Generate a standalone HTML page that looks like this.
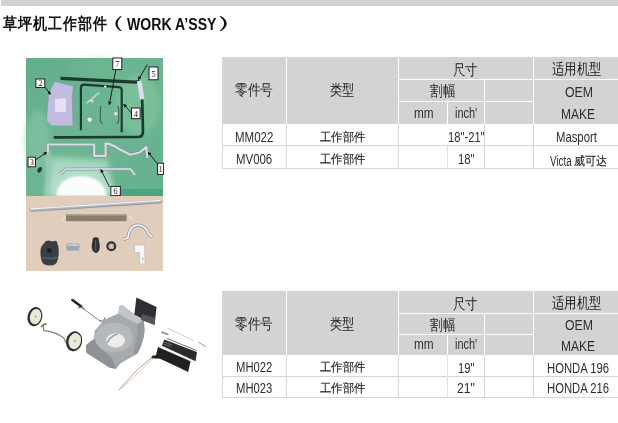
<!DOCTYPE html>
<html><head><meta charset="utf-8">
<style>
html,body{margin:0;padding:0;background:#fff;width:618px;height:423px;overflow:hidden;position:relative}
body{font-family:"Liberation Sans", sans-serif}
.t{position:absolute;white-space:nowrap;line-height:1;transform-origin:0 0;font-family:"Liberation Sans", sans-serif}
.r{position:absolute}
.hw{position:absolute;height:1px;background:#fff}
.vw{position:absolute;width:1px;background:#fff}
.hb{position:absolute;height:1px;background:#d6d6d6}
.vb{position:absolute;width:1px;background:#d6d6d6}
.vd{position:absolute;width:1px;background:repeating-linear-gradient(#d4d4d4 0 1px,#f0f0f0 1px 2px)}
.vl{position:absolute;width:1px;background:#d8d6d6}
svg{position:absolute;left:0;top:0}
</style></head><body>
<!-- top bar -->
<div class="r" style="left:1px;top:0;width:617px;height:6px;background:#d1d1d1"></div>

<!-- TABLE 1 -->
<div class="r" style="left:222px;top:57px;width:396px;height:67px;background:#d3d3d3"></div>
<div class="vl" style="left:222px;top:57px;height:111px"></div>
<div class="vw" style="left:286px;top:57px;height:67px"></div>
<div class="vw" style="left:398px;top:57px;height:67px"></div>
<div class="vw" style="left:533px;top:57px;height:67px"></div>
<div class="vw" style="left:484px;top:80px;height:44px"></div>
<div class="vw" style="left:447px;top:102px;height:22px"></div>
<div class="hw" style="left:399px;top:79px;width:219px"></div>
<div class="hw" style="left:399px;top:101px;width:134px"></div>
<div class="hb" style="left:222px;top:145px;width:396px"></div>
<div class="hb" style="left:222px;top:168px;width:396px"></div>
<div class="vb" style="left:286px;top:124px;height:44px"></div>
<div class="vb" style="left:398px;top:124px;height:44px"></div>
<div class="vb" style="left:484px;top:124px;height:44px"></div>
<div class="vb" style="left:533px;top:124px;height:44px"></div>
<div class="vd" style="left:447px;top:146px;height:22px"></div>

<!-- TABLE 2 -->
<div class="r" style="left:222px;top:291px;width:396px;height:64px;background:#d3d3d3"></div>
<div class="vl" style="left:222px;top:291px;height:106px"></div>
<div class="vw" style="left:286px;top:291px;height:64px"></div>
<div class="vw" style="left:398px;top:291px;height:64px"></div>
<div class="vw" style="left:533px;top:291px;height:64px"></div>
<div class="vw" style="left:484px;top:314px;height:41px"></div>
<div class="vw" style="left:447px;top:335px;height:20px"></div>
<div class="hw" style="left:399px;top:313px;width:219px"></div>
<div class="hw" style="left:399px;top:334px;width:134px"></div>
<div class="hb" style="left:222px;top:376px;width:396px"></div>
<div class="hb" style="left:222px;top:397px;width:396px"></div>
<div class="vb" style="left:286px;top:355px;height:42px"></div>
<div class="vb" style="left:398px;top:355px;height:42px"></div>
<div class="vd" style="left:447px;top:355px;height:42px"></div>
<div class="vb" style="left:484px;top:355px;height:42px"></div>
<div class="vb" style="left:533px;top:355px;height:42px"></div>

<!-- PHOTOS -->
<svg width="618" height="423" viewBox="0 0 618 423">
<!--PHOTO1-->
<defs>
<radialGradient id="refl" cx="0.5" cy="0.8" r="0.6">
<stop offset="0" stop-color="#f2f8f4"/><stop offset="0.45" stop-color="#d8ede2"/><stop offset="1" stop-color="#5aa985" stop-opacity="0"/>
</radialGradient>
<linearGradient id="gtop" x1="0" y1="0" x2="1" y2="1">
<stop offset="0" stop-color="#64ad8b"/><stop offset="0.5" stop-color="#6db592"/><stop offset="1" stop-color="#66b08e"/>
</linearGradient>
<marker id="ah" viewBox="0 0 6 6" refX="5" refY="3" markerWidth="4" markerHeight="4" orient="auto"><path d="M0,0 L6,3 L0,6 z" fill="#111"/></marker>
</defs>
<rect x="26" y="58" width="137" height="138" fill="url(#gtop)"/>
<ellipse cx="138" cy="105" rx="22" ry="30" fill="#7cc29c" filter="url(#bl3)" opacity="0.8"/>
<ellipse cx="100" cy="70" rx="30" ry="10" fill="#6cb892" filter="url(#bl3)" opacity="0.7"/>
<ellipse cx="38" cy="140" rx="12" ry="30" fill="#84c4a6" filter="url(#bl3)" opacity="0.7"/>
<filter id="bl3" x="-0.5" y="-0.5" width="2" height="2"><feGaussianBlur stdDeviation="3"/></filter>
<filter id="bl1" x="-0.5" y="-0.5" width="2" height="2"><feGaussianBlur stdDeviation="1.2"/></filter>
<polygon points="49,157 108,160 113,196 49,196" fill="#a8d9c3" filter="url(#bl3)" opacity="0.95"/>
<path d="M46,196 Q46,170 78,168 Q112,168 114,196 Z" fill="#b4dfcc" filter="url(#bl3)" opacity="0.9"/>
<path d="M56,196 Q58,177 80,176 Q103,176 107,196 Z" fill="#fbfdfc" filter="url(#bl1)"/>
<rect x="45" y="150" width="6" height="46" fill="#9ccdb8" filter="url(#bl1)" opacity="0.6"/>
<rect x="121" y="189" width="42" height="7" fill="#4ba57f"/>
<!-- lilac part -->
<polygon points="54.7,81.8 73.1,86.6 72.2,93.4 73.1,125.5 51.8,125.5 46.9,120.6 48.9,93.4" fill="#c2bce0"/>
<polygon points="55,99 66,98 66,112 55,112" fill="#e4e0f2"/>
<polyline points="72.2,93.4 73.1,125.5" stroke="#9a94b8" stroke-width="1" fill="none"/>
<!-- top rod / handle -->
<path d="M60.5,78.3 L135.3,82.2 Q138.5,82 139.5,80.8" stroke="#1d3a30" stroke-width="3.2" fill="none"/>
<path d="M139.2,81 L142.2,99.2" stroke="#e0d8ec" stroke-width="4.6" fill="none"/>
<path d="M142.2,99.5 L143,131.5 Q143,137 138,137 L53.7,137.3" stroke="#1d3a30" stroke-width="2.7" fill="none"/>
<!-- inner frame -->
<path d="M80.9,130.3 L80.9,88 Q81,84.7 84,84.7 L119,87.2 Q121.7,87.6 121.7,90 L121.7,132.3" stroke="#1d3a30" stroke-width="2.2" fill="none"/>
<circle cx="105.2" cy="86.6" r="1.2" fill="#f0f0f0"/>
<!-- small parts inside -->
<path d="M86.7,103.1 L99.3,92.4" stroke="#c8d4d0" stroke-width="1.4"/>
<path d="M101.8,106 Q100,106 100.3,110 L100.3,120 Q100.3,123.5 102.8,123.5" stroke="#39524a" stroke-width="1" fill="none"/>
<path d="M117,106 Q119,106 118.8,110 L118.8,120 Q118.8,123.5 116.5,123.5" stroke="#39524a" stroke-width="1" fill="none"/>
<circle cx="89.6" cy="119.6" r="2.2" fill="#eef2ee"/>
<circle cx="115.8" cy="113.8" r="1.8" fill="#e0e8e4"/>
<circle cx="92" cy="101" r="1.6" fill="#cfd8d4"/>
<!-- silver rod 1 -->
<path d="M47.8,153.6 L47.8,144.5 L94.2,144.5 L94.2,155.9 L105.6,155.9 L105.6,143.4 Q112,144 119,149 L130.5,154.7 L139.5,152.5 L146.3,146.8 L147.5,158" stroke="#7f9490" stroke-width="3.6" fill="none" stroke-linejoin="round"/><path d="M47.8,153.6 L47.8,144.5 L94.2,144.5 L94.2,155.9 L105.6,155.9 L105.6,143.4 Q112,144 119,149 L130.5,154.7 L139.5,152.5 L146.3,146.8 L147.5,158" stroke="#d4dde2" stroke-width="2.2" fill="none" stroke-linejoin="round"/>
<!-- silver rod 6 -->
<path d="M60.2,174 L65.9,169 L130.5,169 L135,175" stroke="#8c9ca0" stroke-width="3" fill="none"/><path d="M60.2,174 L65.9,169 L130.5,169 L135,175" stroke="#dde2ee" stroke-width="1.6" fill="none"/>
<!-- misc dark bits -->
<ellipse cx="39.7" cy="169.8" rx="2" ry="3" fill="#2a3a34" transform="rotate(30 39.7 169.8)"/>
<!-- labels -->
<g stroke="#111" stroke-width="0.9" fill="#fff">
<rect x="35.9" y="79" width="8.9" height="8.5"/>
<rect x="112.8" y="58" width="9" height="11.6"/>
<rect x="149" y="67" width="9" height="12.8"/>
<rect x="131.4" y="108" width="8.7" height="10.7"/>
<rect x="28" y="157.2" width="7.4" height="9.6"/>
<rect x="110.9" y="186.4" width="9.4" height="9.3"/>
<rect x="157.6" y="163.2" width="6" height="11.3"/>
</g>
<g font-family="Liberation Serif" font-size="8" fill="#111" text-anchor="middle">
<text x="40.4" y="86.3">2</text>
<text x="117.3" y="67">7</text>
<text x="153.5" y="76.8">5</text>
<text x="135.8" y="117">4</text>
<text x="31.7" y="165">3</text>
<text x="115.6" y="194.3">6</text>
<text x="160.6" y="172">1</text>
</g>
<g stroke="#111" stroke-width="0.9" fill="none" marker-end="url(#ah)">
<path d="M45.3,87.5 L50.4,94.3"/>
<path d="M115.8,70 L109.3,104.6"/>
<path d="M147.3,64.5 L138.5,79.5"/>
<path d="M131.4,113 L123.8,104.3"/>
<path d="M35.4,160 L46.7,152.4"/>
<path d="M109.5,187 L100.9,169.6"/>
<path d="M157.6,164 L148.3,152.4"/>
</g>
<!-- lower beige photo -->
<rect x="26" y="196" width="137" height="75" fill="#e0cdbb"/>
<path d="M30.8,209.8 L160.8,201.3" stroke="#b4b8c0" stroke-width="3.8" stroke-linecap="round"/>
<path d="M30.8,208.8 L160.8,200.3" stroke="#eef0f4" stroke-width="1.2"/>
<path d="M30.8,211.4 L160.8,202.9" stroke="#8e9098" stroke-width="0.8"/>
<rect x="66" y="214" width="60.5" height="7.2" fill="#938676"/>
<path d="M66,217.6 L126.5,217.6" stroke="#6e6458" stroke-width="7" stroke-dasharray="0.8 0.9" opacity="0.5"/>
<rect x="66" y="214" width="60.5" height="1.6" fill="#b0a494"/>
<path d="M66,217 Q62,216 63,221 M127.8,217 Q132,215 131,220" stroke="#f0ece8" stroke-width="1" fill="none"/>
<path d="M44.5,243 Q44.5,240.5 49,240.5 L52,241.5 L55,240.8 Q57.5,241 57.5,244 Q58.8,246 58.7,252 Q58.7,259 56.5,263 Q54,265.7 50,265.5 Q44,265.5 42,262 Q40.3,258 40.5,251 Q40.5,246 44.5,243 Z" fill="#3a3f46"/>
<ellipse cx="49.3" cy="250.5" rx="2.4" ry="2.6" fill="#1e2024"/>
<path d="M42,257.5 Q50,259.5 57.8,257.5" stroke="#52606a" stroke-width="1.4" fill="none"/>
<rect x="66.3" y="243" width="13.2" height="7.7" rx="2.5" fill="#9ca6b4"/>
<rect x="67" y="243.5" width="11.5" height="2.4" rx="1" fill="#c2cad6"/>
<path d="M79.3,248 L80.2,253.5" stroke="#ccc6c0" stroke-width="0.8"/>
<path d="M93,238 Q95.5,236.5 98.5,238 L99.8,246 Q99.8,252.5 96,252.9 Q92,252.5 91.6,246 Z" fill="#2e3135"/>
<path d="M95.7,240 L95.7,251" stroke="#6a6e74" stroke-width="0.8"/>
<circle cx="111.3" cy="246.3" r="3.9" stroke="#34363a" stroke-width="2.2" fill="none"/>
<circle cx="111.3" cy="246.3" r="2" stroke="#6a6c70" stroke-width="0.8" fill="none" stroke-dasharray="1 1"/>
<path d="M123.5,239.5 L128,237.8 C128.8,230 132,225.2 137.6,225.2 C143,225.2 146.8,229 148.8,234 L152,236.8" stroke="#8e9098" stroke-width="3.2" fill="none" stroke-linejoin="round"/>
<path d="M123.5,239.5 L128,237.8 C128.8,230 132,225.2 137.6,225.2 C143,225.2 146.8,229 148.8,234 L152,236.8" stroke="#f0f1f4" stroke-width="1.8" fill="none" stroke-linejoin="round"/>
<polygon points="134.5,245 144.6,245 145.1,263.9 139.5,263.9 139.5,252.6 134.5,252.6" fill="#f6f6f8" stroke="#b0b0b4" stroke-width="0.6"/>
<circle cx="142.6" cy="258.9" r="0.8" fill="#888"/>
<!--PHOTO2-->
<!-- mower -->
<g>
<ellipse cx="34.9" cy="316.7" rx="7.3" ry="9.7" fill="#2a2b2c" transform="rotate(14 34.9 316.7)"/>
<ellipse cx="35.5" cy="316.6" rx="5.6" ry="7.8" fill="#ebe9da" transform="rotate(14 35.5 316.6)"/>
<circle cx="35.6" cy="316.5" r="0.9" fill="#8faa90"/>
<ellipse cx="74.1" cy="341.2" rx="8" ry="10.1" fill="#2a2b2c" transform="rotate(14 74.1 341.2)"/>
<ellipse cx="74.8" cy="341.1" rx="6.2" ry="8.2" fill="#ebe9da" transform="rotate(14 74.8 341.1)"/>
<circle cx="75" cy="341" r="0.9" fill="#8faa90"/>
<polyline points="43.2,324.3 43.8,330.7 49.5,331.4 57.2,333.9 63.6,337.8 66.1,342.9" stroke="#8a7e6a" stroke-width="1.2" fill="none"/>
<path d="M41,327 L44,324.5 L46.5,324" stroke="#7a6a50" stroke-width="1.6" fill="none"/>
<path d="M72.4,300.1 L81.2,306.6" stroke="#1e1e1e" stroke-width="2.5" stroke-linecap="round"/>
<path d="M81.7,307.5 L101.2,321.8" stroke="#7a7468" stroke-width="0.9"/>
<path d="M78,307.8 L80.5,307.2 L84.5,308.8" stroke="#8a7656" stroke-width="1.4" fill="none"/>
<path d="M100,320.5 L103.5,321.5 L104.8,317.8" stroke="#8a7a60" stroke-width="1.2" fill="none"/>
<polygon points="119.4,306 122.6,305.3 133.2,313.4 141.7,316.6 143.8,320 144.5,330 143.8,336.8 141,346 137.4,353.8 128,359 120.4,363.4 116.2,368.7 109.8,367.7 86.4,352.8 86,345.3 93.8,339 94.9,330.4 104.5,319.8 118.3,313.4" fill="#a6a9ad"/>
<polygon points="86,345.3 93.8,339 100,348 112,358 116.2,368.7 109.8,367.7 86.4,352.8" fill="#8e9195"/>
<polygon points="143.8,320 144.5,330 143.8,336.8 141,346 137.4,353.8 133,354 137,336 138,324" fill="#95989c"/>
<ellipse cx="114" cy="337.5" rx="19" ry="15" fill="#b6b9bc"/>
<polygon points="119.4,306 122.6,305.3 133.2,313.4 141.7,316.6 143.8,320 138,324 126,318 118.3,313.4" fill="#c3c6c9"/>
<ellipse cx="115.5" cy="340.5" rx="9.5" ry="7.2" fill="#ececec"/>
<path d="M107,343 Q110,336 118,334" stroke="#8a8d91" stroke-width="1.2" fill="none"/>
<polygon points="136.4,297.4 156.6,307 154.5,325.1 134.3,314.5" fill="#2e2e35"/>
<polygon points="142,314 155.3,318 154.5,325.1 141,320" fill="#55565c"/>
<polygon points="164.3,339.4 196.9,352 195.6,361.3 161.8,345.7" fill="#2c2c30"/>
<path d="M164,342 L172,345 M163.5,344 L170,346.5" stroke="#7a7a80" stroke-width="0.8"/>
<path d="M166.8,338.4 L196.5,350.5" stroke="#3a3a3e" stroke-width="0.7"/>
<polygon points="158,347 190.6,361.3 188.1,372 176.8,366.5 160,358.8 151.1,358.2 152,355.8 156,355.2" fill="#202023"/>
<path d="M167.5,328 L193.2,340.4" stroke="#c9c6be" stroke-width="0.9"/>
<path d="M161.3,332 L168.4,334.5" stroke="#8a8a8a" stroke-width="1.6"/>
<path d="M198.5,342 L205.6,346.6" stroke="#9a9a9a" stroke-width="1"/>
<path d="M152.4,357 L135,372 L119,390" stroke="#a89878" stroke-width="0.9" fill="none"/>
<path d="M153.5,358 L138,373 L121,389" stroke="#c0b090" stroke-width="0.6" fill="none"/>
</g>

</svg>

<div class="t" style="left:3.20px;top:16.10px;font-size:16px;font-weight:bold;color:#111;letter-spacing:1.0px;transform:scaleX(0.8780);">草坪机工作部件</div>
<div class="t" style="left:93.93px;top:13.80px;font-size:17px;font-weight:normal;color:#111;letter-spacing:0px;transform:scaleX(1.9333);">（</div>
<div class="t" style="left:126.80px;top:17.40px;font-size:16px;font-weight:bold;color:#111;letter-spacing:0px;transform:scaleX(0.8802);">WORK A’SSY</div>
<div class="t" style="left:213.60px;top:13.80px;font-size:17px;font-weight:normal;color:#111;letter-spacing:0px;transform:scaleX(2.1333);">）</div>
<div class="t" style="left:234.65px;top:81.80px;font-size:15px;font-weight:normal;color:#1e1e1e;letter-spacing:0px;transform:scaleX(0.8465);">零件号</div>
<div class="t" style="left:329.59px;top:81.70px;font-size:15px;font-weight:normal;color:#1e1e1e;letter-spacing:0px;transform:scaleX(0.8138);">类型</div>
<div class="t" style="left:453.07px;top:61.80px;font-size:15px;font-weight:normal;color:#1e1e1e;letter-spacing:0px;transform:scaleX(0.8276);">尺寸</div>
<div class="t" style="left:552.37px;top:61.40px;font-size:15px;font-weight:normal;color:#1e1e1e;letter-spacing:0px;transform:scaleX(0.8271);">适用机型</div>
<div class="t" style="left:429.70px;top:82.50px;font-size:15px;font-weight:normal;color:#1e1e1e;letter-spacing:0px;transform:scaleX(0.8379);">割幅</div>
<div class="t" style="left:413.66px;top:105.70px;font-size:14px;font-weight:normal;color:#2e2e2e;letter-spacing:0px;transform:scaleX(0.8409);">mm</div>
<div class="t" style="left:454.72px;top:105.80px;font-size:14px;font-weight:normal;color:#2e2e2e;letter-spacing:0px;transform:scaleX(0.7815);">inch'</div>
<div class="t" style="left:564.52px;top:84.90px;font-size:14px;font-weight:normal;color:#2e2e2e;letter-spacing:0px;transform:scaleX(0.8800);">OEM</div>
<div class="t" style="left:560.94px;top:107.40px;font-size:14px;font-weight:normal;color:#2e2e2e;letter-spacing:0px;transform:scaleX(0.8579);">MAKE</div>
<div class="t" style="left:234.65px;top:315.80px;font-size:15px;font-weight:normal;color:#1e1e1e;letter-spacing:0px;transform:scaleX(0.8465);">零件号</div>
<div class="t" style="left:329.59px;top:315.70px;font-size:15px;font-weight:normal;color:#1e1e1e;letter-spacing:0px;transform:scaleX(0.8138);">类型</div>
<div class="t" style="left:453.07px;top:295.80px;font-size:15px;font-weight:normal;color:#1e1e1e;letter-spacing:0px;transform:scaleX(0.8276);">尺寸</div>
<div class="t" style="left:552.37px;top:295.40px;font-size:15px;font-weight:normal;color:#1e1e1e;letter-spacing:0px;transform:scaleX(0.8271);">适用机型</div>
<div class="t" style="left:429.70px;top:316.50px;font-size:15px;font-weight:normal;color:#1e1e1e;letter-spacing:0px;transform:scaleX(0.8379);">割幅</div>
<div class="t" style="left:413.66px;top:337.30px;font-size:14px;font-weight:normal;color:#2e2e2e;letter-spacing:0px;transform:scaleX(0.8409);">mm</div>
<div class="t" style="left:454.72px;top:337.40px;font-size:14px;font-weight:normal;color:#2e2e2e;letter-spacing:0px;transform:scaleX(0.7815);">inch'</div>
<div class="t" style="left:564.52px;top:318.20px;font-size:14px;font-weight:normal;color:#2e2e2e;letter-spacing:0px;transform:scaleX(0.8800);">OEM</div>
<div class="t" style="left:560.94px;top:339.30px;font-size:14px;font-weight:normal;color:#2e2e2e;letter-spacing:0px;transform:scaleX(0.8579);">MAKE</div>
<div class="t" style="left:235.48px;top:130.20px;font-size:14px;font-weight:normal;color:#2e2e2e;letter-spacing:0px;transform:scaleX(0.8200);">MM022</div>
<div class="t" style="left:236.18px;top:151.90px;font-size:14px;font-weight:normal;color:#2e2e2e;letter-spacing:0px;transform:scaleX(0.8163);">MV006</div>
<div class="t" style="left:320.00px;top:131.40px;font-size:12px;font-weight:normal;color:#1e1e1e;letter-spacing:0px;transform:scaleX(0.9417);-webkit-text-stroke:0.15px #1e1e1e">工作部件</div>
<div class="t" style="left:320.00px;top:153.20px;font-size:12px;font-weight:normal;color:#1e1e1e;letter-spacing:0px;transform:scaleX(0.9417);-webkit-text-stroke:0.15px #1e1e1e">工作部件</div>
<div class="t" style="left:448.20px;top:130.20px;font-size:14px;font-weight:normal;color:#2e2e2e;letter-spacing:0px;transform:scaleX(0.8000);">18&quot;-21&quot;</div>
<div class="t" style="left:458.09px;top:152.30px;font-size:14px;font-weight:normal;color:#2e2e2e;letter-spacing:0px;transform:scaleX(0.8105);">18&quot;</div>
<div class="t" style="left:555.69px;top:129.80px;font-size:14px;font-weight:normal;color:#2e2e2e;letter-spacing:0px;transform:scaleX(0.8080);">Masport</div>
<div class="t" style="left:550.10px;top:154.20px;font-size:14px;font-weight:normal;color:#2e2e2e;letter-spacing:0px;transform:scaleX(0.7032);">Victa</div>
<div class="t" style="left:573.88px;top:154.70px;font-size:12px;font-weight:normal;color:#1e1e1e;letter-spacing:0px;transform:scaleX(0.9176);-webkit-text-stroke:0.15px #1e1e1e">威可达</div>
<div class="t" style="left:236.30px;top:360.20px;font-size:14px;font-weight:normal;color:#2e2e2e;letter-spacing:0px;transform:scaleX(0.8045);">MH022</div>
<div class="t" style="left:236.30px;top:380.80px;font-size:14px;font-weight:normal;color:#2e2e2e;letter-spacing:0px;transform:scaleX(0.8045);">MH023</div>
<div class="t" style="left:320.00px;top:361.30px;font-size:12px;font-weight:normal;color:#1e1e1e;letter-spacing:0px;transform:scaleX(0.9438);-webkit-text-stroke:0.15px #1e1e1e">工作部件</div>
<div class="t" style="left:320.00px;top:382.10px;font-size:12px;font-weight:normal;color:#1e1e1e;letter-spacing:0px;transform:scaleX(0.9438);-webkit-text-stroke:0.15px #1e1e1e">工作部件</div>
<div class="t" style="left:458.30px;top:360.50px;font-size:14px;font-weight:normal;color:#2e2e2e;letter-spacing:0px;transform:scaleX(0.8000);">19&quot;</div>
<div class="t" style="left:456.93px;top:380.70px;font-size:14px;font-weight:normal;color:#2e2e2e;letter-spacing:0px;transform:scaleX(0.8684);">21&quot;</div>
<div class="t" style="left:546.99px;top:360.50px;font-size:14px;font-weight:normal;color:#2e2e2e;letter-spacing:0px;transform:scaleX(0.8066);">HONDA 196</div>
<div class="t" style="left:546.99px;top:380.90px;font-size:14px;font-weight:normal;color:#2e2e2e;letter-spacing:0px;transform:scaleX(0.8066);">HONDA 216</div>
</body></html>
